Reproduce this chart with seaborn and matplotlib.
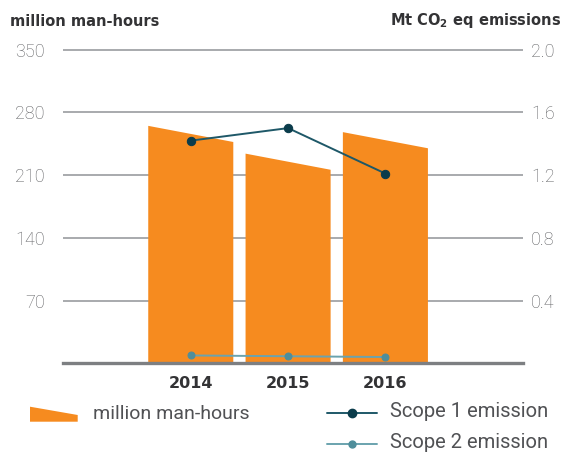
import numpy as np
import pandas as pd
import matplotlib
matplotlib.use("Agg")
import matplotlib.pyplot as plt
import seaborn as sns
from matplotlib.patches import Polygon
from matplotlib.lines import Line2D

# Data
years = ["2014", "2015", "2016"]
man_hours = [265, 234, 258]          # million man-hours
scope1 = [1.42, 1.50, 1.21]          # Mt CO2 eq
scope2 = [0.05, 0.045, 0.04]         # Mt CO2 eq
left_ticks = [70, 140, 210, 280, 350]
right_ticks = [0.4, 0.8, 1.2, 1.6, 2.0]

# Styling
ORANGE = "#F68B1F"
S1_LINE, S1_DOT = "#1E5868", "#0B3C4B"
S2_LINE, S2_DOT = "#6AA3AE", "#4F8E9B"
GRID = "#9A9C9F"
BASE = "#7D7F82"
TICK = "#5E5F62"
DARK = "#333335"
LEG = "#505154"
SLANT = 18  # drop of the sloped bar top, in axis units
THIN = ["Roboto", "DejaVu Sans"]

sns.set_theme(style="white")
plt.rcParams["font.family"] = ["DejaVu Sans"]
plt.rcParams["axes.grid"] = False

W, H = 575, 453
XLIM = (-1.313, 3.414)
fig = plt.figure(figsize=(W / 100, H / 100), dpi=100)
ax = fig.add_axes([63 / W, 1 - 363.3 / H, 460 / W, (363.3 - 49.7) / H])

df = pd.DataFrame({"year": years, "hours": man_hours})
sns.barplot(data=df, x="year", y="hours", color=ORANGE, width=0.874,
            saturation=1, ax=ax)

# turn each bar into a trapezoid with a sloping top
for p in list(ax.patches):
    x0, w, h = p.get_x(), p.get_width(), p.get_height()
    poly = Polygon([(x0, 0), (x0, h), (x0 + w, h - SLANT), (x0 + w, 0)],
                   closed=True, facecolor=ORANGE, edgecolor="none", zorder=3)
    p.remove()
    ax.add_patch(poly)

# horizontal guide lines behind the bars
ax.hlines(left_ticks, XLIM[0], XLIM[1], colors=GRID, linewidth=1.2, zorder=1,
          clip_on=False)

ax.set_ylim(0, 350)
ax.set_yticks(left_ticks)
for s in ["top", "left", "right"]:
    ax.spines[s].set_visible(False)
ax.spines["bottom"].set_color(BASE)
ax.spines["bottom"].set_linewidth(2.4)
ax.spines["bottom"].set_zorder(4)
ax.set_xlabel("")
ax.set_ylabel("")
ax.tick_params(axis="y", length=0, pad=13, labelsize=13, labelcolor=TICK)
ax.tick_params(axis="x", length=0, pad=9, labelsize=11.5, labelcolor=DARK)
for lbl in ax.get_xticklabels():
    lbl.set_fontweight("bold")
for lbl in ax.get_yticklabels():
    lbl.set_fontfamily(THIN)
    lbl.set_fontweight("light")

# emissions on the secondary axis
ax2 = ax.twinx()
x_idx = np.arange(len(years))
sns.lineplot(x=x_idx, y=scope1, ax=ax2, color=S1_LINE, linewidth=1.4,
             marker="o", markersize=6, markerfacecolor=S1_DOT,
             markeredgecolor=S1_DOT, zorder=4)
sns.lineplot(x=x_idx, y=scope2, ax=ax2, color=S2_LINE, linewidth=1.4,
             marker="o", markersize=5, markerfacecolor=S2_DOT,
             markeredgecolor=S2_DOT, zorder=4)
ax2.set_ylim(0, 2.0)
ax2.set_yticks(right_ticks)
ax2.set_yticklabels([f"{v:.1f}" for v in right_ticks])
for s in ["top", "left", "right", "bottom"]:
    ax2.spines[s].set_visible(False)
ax2.set_xlabel("")
ax2.set_ylabel("")
ax2.tick_params(axis="y", length=0, pad=6, labelsize=13, labelcolor=TICK)
for lbl in ax2.get_yticklabels():
    lbl.set_fontfamily(THIN)
    lbl.set_fontweight("light")
ax.set_xlim(*XLIM)

# axis titles
fig.text(10 / W, 1 - 21 / H, "million man-hours", fontsize=10.5,
         fontweight="bold", color=DARK, ha="left", va="center")
fig.text(561 / W, 1 - 21 / H, r"Mt CO$_\mathbf{2}$ eq emissions", fontsize=10.5,
         fontweight="bold", color=DARK, ha="right", va="center")

# legend
def fx(x):
    return x / W

def fy(y):
    return 1 - y / H

swatch = Polygon([(fx(30), fy(421.7)), (fx(30), fy(406.7)),
                  (fx(77.7), fy(415)), (fx(77.7), fy(421.7))],
                 closed=True, facecolor=ORANGE, edgecolor="none",
                 transform=fig.transFigure)
fig.add_artist(swatch)
fig.text(fx(93), fy(414), "million man-hours", fontsize=14, color=LEG,
         family=THIN, ha="left", va="center")

for y, lc, dc, ms, label in [(412.7, S1_LINE, S1_DOT, 6, "Scope 1 emission"),
                             (444.3, S2_LINE, S2_DOT, 5, "Scope 2 emission")]:
    fig.add_artist(Line2D([fx(327), fx(377)], [fy(y), fy(y)], color=lc,
                          linewidth=1.4, transform=fig.transFigure))
    fig.add_artist(Line2D([fx(352)], [fy(y)], marker="o", markersize=ms,
                          color=dc, linestyle="none",
                          transform=fig.transFigure))
    fig.text(fx(390), fy(y - 1.5), label, fontsize=14.5, color=LEG,
             family=THIN, ha="left", va="center")

fig.savefig("out.png", dpi=100)
